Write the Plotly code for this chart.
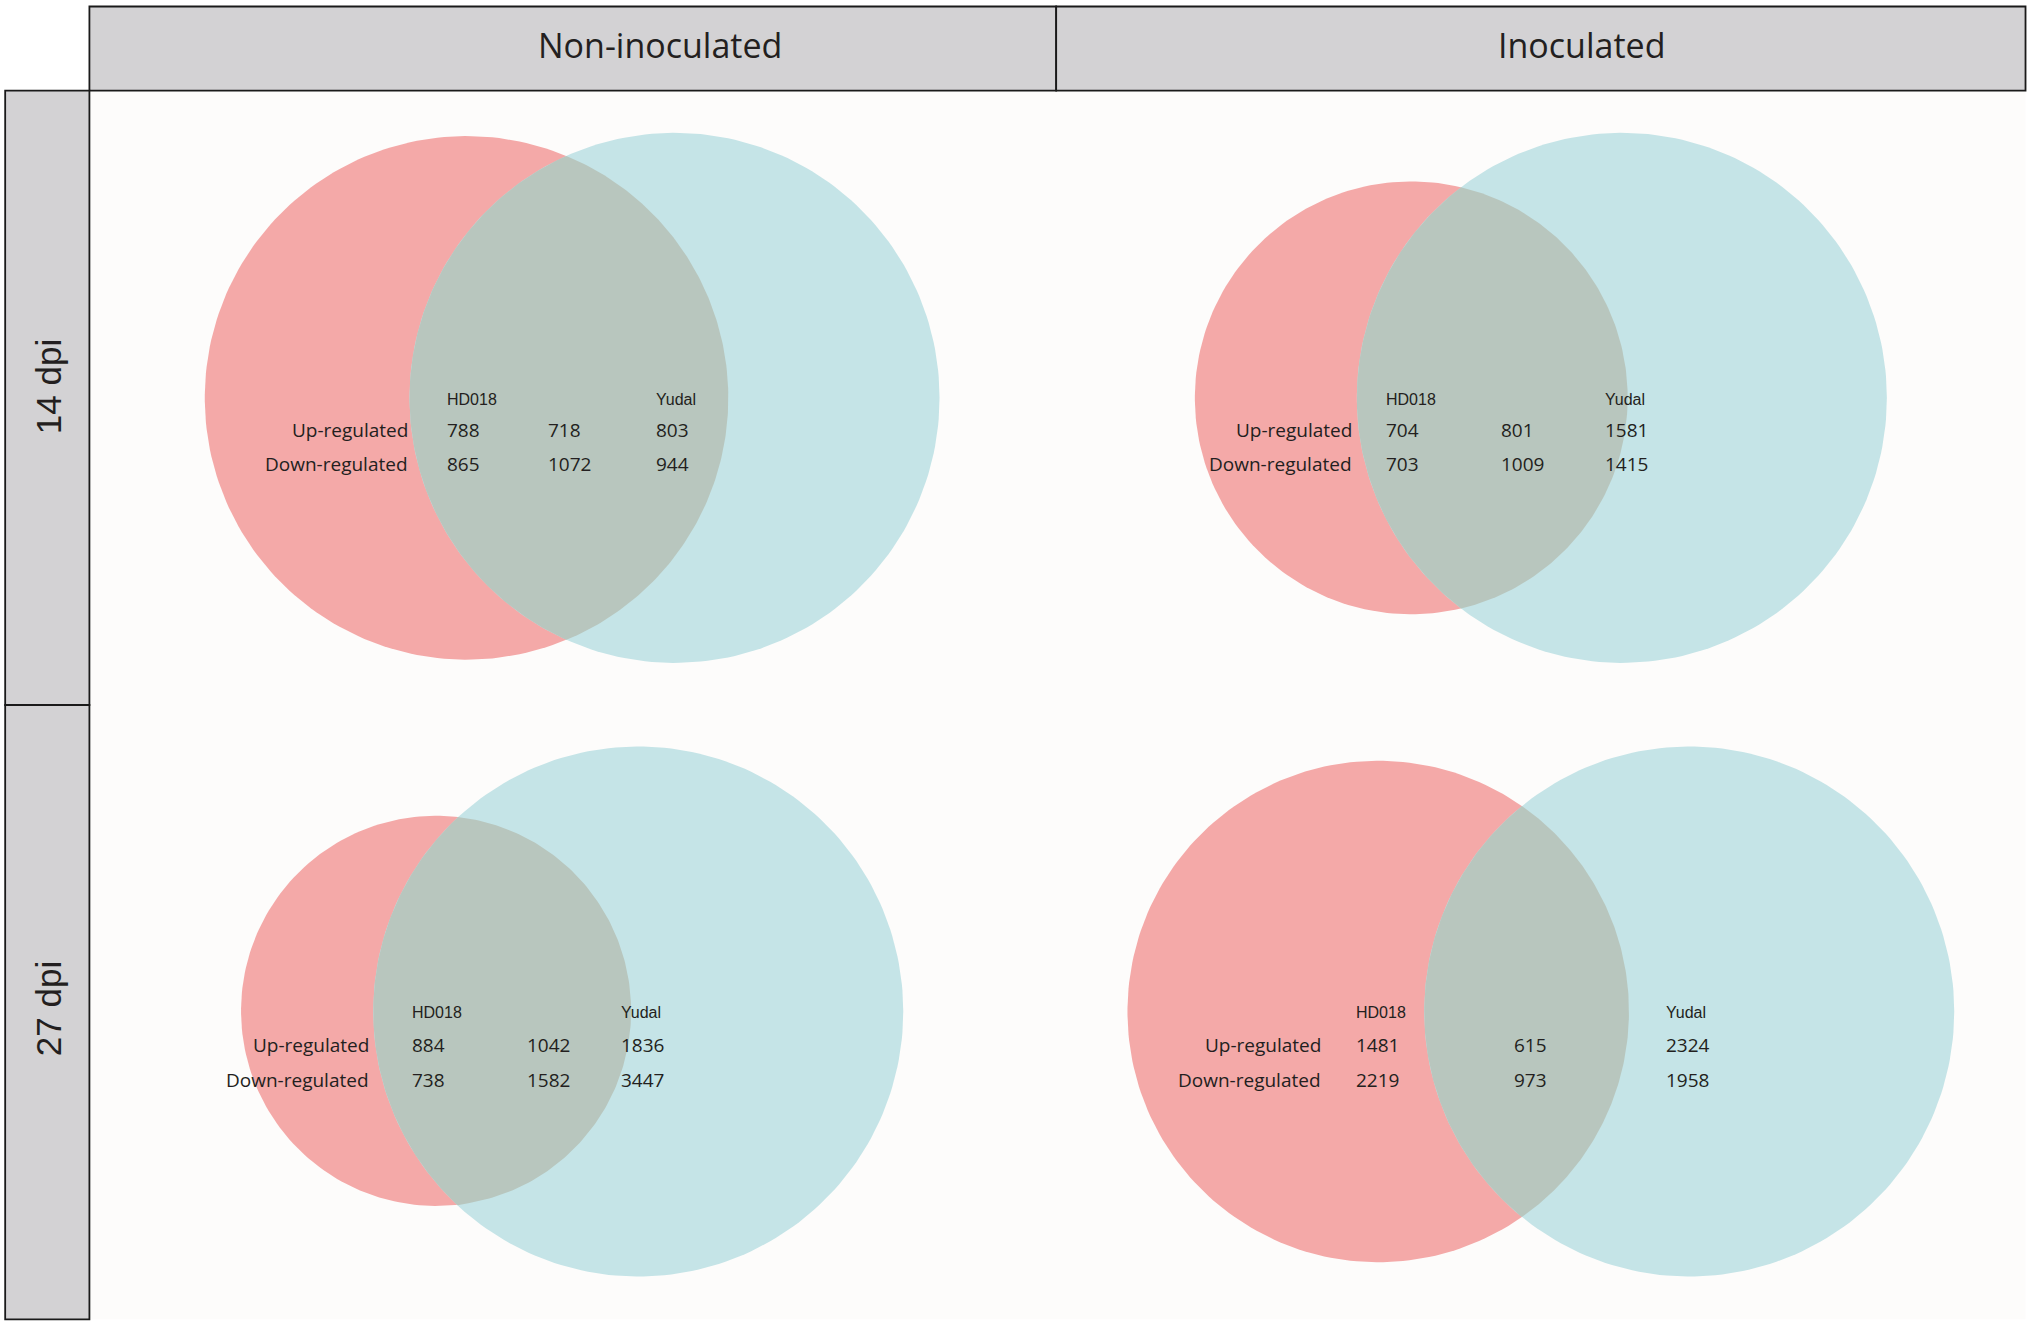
import numpy as np
import plotly.graph_objects as go

# ---------------- data ----------------
conditions = ["Non-inoculated", "Inoculated"]
timepoints = ["14 dpi", "27 dpi"]
genotypes = ["HD018", "Yudal"]
reg_labels = ["Up-regulated", "Down-regulated"]

# panel order: 14dpi/Non-inoc, 14dpi/Inoc, 27dpi/Non-inoc, 27dpi/Inoc
up_hd018 = [788, 704, 884, 1481]
up_shared = [718, 801, 1042, 615]
up_yudal = [803, 1581, 1836, 2324]
down_hd018 = [865, 703, 738, 2219]
down_shared = [1072, 1009, 1582, 973]
down_yudal = [944, 1415, 3447, 1958]

# ---------------- layout geometry (reference units, 1568 x 1022.4) ----------------
W, H = 1568.0, 1022.4
red_geo = [(360, 307, 202), (1089, 307, 167), (336.5, 780, 150.5), (1063.5, 780.5, 193.5)]
blue_geo = [(520.5, 307, 204.5), (1251.5, 307, 204.5), (492.5, 780.5, 204.5), (1303.5, 780.5, 204.5)]
# text columns: label right edge, col1, col2, col3 ; rows y: header, up, down
text_cols = [(316, 343, 421, 505), (1045, 1068, 1157, 1237), (286, 316, 405, 478), (1021, 1045, 1167, 1284)]
text_rows = [(308, 332, 358), (308, 332, 358), (781, 806, 833), (781, 806, 833)]

RED = "#f4a9a8"
BLUE = "#c5e4e7"
LENS = "#b8c6be"
BOX = "#d3d2d4"
TXT = "#231f20"

fig = go.Figure()


def circle_pts(cx, cy, r, t0=0, t1=2 * np.pi, n=240):
    t = np.linspace(t0, t1, n)
    return cx + r * np.cos(t), cy + r * np.sin(t)


for (rx, ry, rr), (bx, by, br) in zip(red_geo, blue_geo):
    x, y = circle_pts(rx, ry, rr)
    fig.add_trace(go.Scatter(x=x, y=y, mode="lines", fill="toself", fillcolor=RED,
                             line=dict(width=0, color=RED), hoverinfo="skip", showlegend=False))
    x, y = circle_pts(bx, by, br)
    fig.add_trace(go.Scatter(x=x, y=y, mode="lines", fill="toself", fillcolor=BLUE,
                             line=dict(width=0, color=BLUE), hoverinfo="skip", showlegend=False))
    d = bx - rx
    a = (d * d + rr * rr - br * br) / (2 * d)
    h = np.sqrt(rr * rr - a * a)
    p1 = np.arctan2(h, a)
    p2 = np.arctan2(h, d - a)
    x1, y1 = circle_pts(rx, ry, rr, -p1, p1, 160)
    x2, y2 = circle_pts(bx, by, br, np.pi - p2, np.pi + p2, 160)
    fig.add_trace(go.Scatter(x=np.concatenate([x1, x2]), y=np.concatenate([y1, y2]),
                             mode="lines", fill="toself", fillcolor=LENS,
                             line=dict(width=0, color=LENS), hoverinfo="skip", showlegend=False))

shapes = []
# panel background
shapes.append(dict(type="rect", xref="x", yref="y", x0=69, x1=1563, y0=70, y1=1018,
                   fillcolor="#fdfcfb", line=dict(width=0), layer="below"))
# column header boxes
for x0, x1 in [(69, 815), (815, 1563)]:
    shapes.append(dict(type="rect", xref="x", yref="y", x0=x0, x1=x1, y0=5, y1=70,
                       fillcolor=BOX, line=dict(color="#1a1a1a", width=1.8)))
# row header boxes
for y0, y1 in [(70, 544), (544, 1018)]:
    shapes.append(dict(type="rect", xref="x", yref="y", x0=4, x1=69, y0=y0, y1=y1,
                       fillcolor=BOX, line=dict(color="#1a1a1a", width=1.8)))

ann = []
for name, xc in zip(conditions, [509, 1220]):
    ann.append(dict(x=xc, y=35, xref="x", yref="y", text=name, showarrow=False,
                    xanchor="center", yanchor="middle",
                    font=dict(family="Open Sans", size=34, color=TXT)))
for name, yc in zip(timepoints, [298, 778]):
    ann.append(dict(x=37, y=yc, xref="x", yref="y", text=name, showarrow=False, textangle=-90,
                    xanchor="center", yanchor="middle",
                    font=dict(family="Liberation Sans, Arial", size=35, color=TXT)))

for i in range(4):
    lab_r, c1, c2, c3 = text_cols[i]
    yh, yu, ydn = text_rows[i]
    ann.append(dict(x=c1, y=yh, xref="x", yref="y", text=genotypes[0], showarrow=False,
                    xanchor="left", yanchor="middle",
                    font=dict(family="Liberation Sans, Arial", size=16, color=TXT)))
    ann.append(dict(x=c3, y=yh, xref="x", yref="y", text=genotypes[1], showarrow=False,
                    xanchor="left", yanchor="middle",
                    font=dict(family="Liberation Sans, Arial", size=16, color=TXT)))
    rows = [(reg_labels[0], yu, up_hd018[i], up_shared[i], up_yudal[i]),
            (reg_labels[1], ydn, down_hd018[i], down_shared[i], down_yudal[i])]
    for lab, yy, v1, v2, v3 in rows:
        ann.append(dict(x=lab_r, y=yy, xref="x", yref="y", text=lab, showarrow=False,
                        xanchor="right", yanchor="middle",
                        font=dict(family="Open Sans", size=19, color=TXT)))
        for xx, v in [(c1, v1), (c2, v2), (c3, v3)]:
            ann.append(dict(x=xx, y=yy, xref="x", yref="y", text=str(v), showarrow=False,
                            xanchor="left", yanchor="middle",
                            font=dict(family="Open Sans", size=19, color=TXT)))

fig.update_layout(
    width=2032, height=1325,
    margin=dict(l=0, r=0, t=0, b=0),
    paper_bgcolor="white", plot_bgcolor="white",
    xaxis=dict(range=[0, W], visible=False, fixedrange=True),
    yaxis=dict(range=[H, 0], visible=False, fixedrange=True),
    shapes=shapes, annotations=ann, showlegend=False,
)
fig.write_html(
    "out.html",
    config={"displayModeBar": False},
    post_script="document.body.style.margin='0px';document.body.style.overflow='hidden';",
)
